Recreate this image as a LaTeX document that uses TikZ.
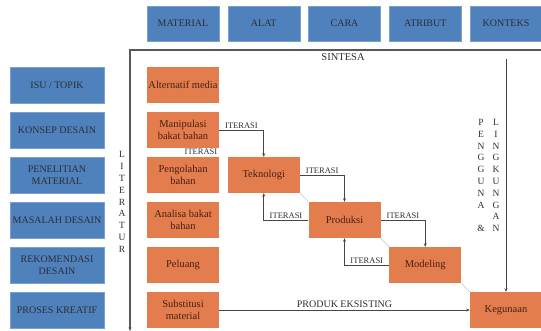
\documentclass[tikz,border=0pt]{standalone}
\usepackage{fontspec}
\setmainfont{Liberation Serif}
\usetikzlibrary{arrows.meta, positioning}

\definecolor{boxblue}{RGB}{79,129,189}
\definecolor{boxorange}{RGB}{228,125,78}
\definecolor{txtgray}{RGB}{45,45,52}
\definecolor{txtbrown}{RGB}{70,32,18}

\begin{document}
\begin{tikzpicture}[x=1pt, y=-1pt,
    every node/.style={font=\fontsize{10}{12}\selectfont},
    bluebox/.style={fill=boxblue, draw=boxblue!75!white, minimum width=72pt, minimum height=36pt,
        text=txtgray, align=center, inner sep=1pt},
    orangebox/.style={fill=boxorange, minimum width=72pt, minimum height=36pt,
        text=txtbrown, align=center, inner sep=1pt, font=\fontsize{10.5}{12}\selectfont},
    iterlabel/.style={font=\fontsize{8.5}{10}\selectfont, text=txtgray, inner sep=1.5pt},
    arr/.style={-{Stealth[length=3.5pt, width=3pt]}, gray!55!black, semithick},
    link/.style={gray!60, thin},
    stacked/.style={font=\fontsize{9.5}{11.8}\selectfont, text=txtgray, align=center, inner sep=0pt}
]
\useasboundingbox (0,0) rectangle (541,331);

% Grid spacing (pixels)
\def\colpitch{80.75}
\def\rowpitch{45}

% Top row: aspects
\node[bluebox, minimum height=35pt] (material) at (183,23.5) {MATERIAL};
\node[bluebox, minimum height=35pt] (alat) at (183+\colpitch,23.5) {ALAT};
\node[bluebox, minimum height=35pt] (cara) at (183+2*\colpitch,23.5) {CARA};
\node[bluebox, minimum height=35pt] (atribut) at (183+3*\colpitch,23.5) {ATRIBUT};
\node[bluebox, minimum height=35pt] (konteks) at (183+4*\colpitch,23.5) {KONTEKS};

% Left column: stages
\node[bluebox, minimum width=94pt] (isu) at (57,85) {ISU / TOPIK};
\node[bluebox, minimum width=94pt] (konsep) at (57,85+\rowpitch) {KONSEP DESAIN};
\node[bluebox, minimum width=94pt] (penelitian) at (57,85+2*\rowpitch) {PENELITIAN\\MATERIAL};
\node[bluebox, minimum width=94pt] (masalah) at (57,85+3*\rowpitch) {MASALAH DESAIN};
\node[bluebox, minimum width=94pt] (rekomendasi) at (57,85+4*\rowpitch) {REKOMENDASI\\DESAIN};
\node[bluebox, minimum width=94pt] (proses) at (57,85+5*\rowpitch) {PROSES KREATIF};

% Frame with literature axis
\coordinate (frameR) at (541,50);
\coordinate (frameTL) at (130,50);
\coordinate (frameBL) at (130,331);
\draw[arr, line width=1.1pt, gray!70!black] (frameR) -- (frameTL) -- (frameBL);
\node[text=txtgray, font=\fontsize{10.5}{12}\selectfont] (sintesa) at (343,57) {SINTESA};
\node[stacked] (literatur) at (122,202) {L\\I\\T\\E\\R\\A\\T\\U\\R};

% Orange column
\node[orangebox] (alternatif) at (183,85) {Alternatif media};
\node[orangebox] (manipulasi) at (183,85+\rowpitch) {Manipulasi\\bakat bahan};
\node[orangebox] (pengolahan) at (183,85+2*\rowpitch) {Pengolahan\\bahan};
\node[orangebox] (analisa) at (183,85+3*\rowpitch) {Analisa bakat\\bahan};
\node[orangebox] (peluang) at (183,85+4*\rowpitch) {Peluang};
\node[orangebox] (substitusi) at (183,85+5*\rowpitch) {Substitusi\\material};
\node[iterlabel, anchor=east] (iterpeng) at (219,152) {ITERASI};

% Staircase
\node[orangebox] (teknologi) at (183+\colpitch,85+2*\rowpitch) {Teknologi};
\node[orangebox] (produksi) at (183+2*\colpitch,85+3*\rowpitch) {Produksi};
\node[orangebox] (modeling) at (183+3*\colpitch,85+4*\rowpitch) {Modeling};
\node[orangebox] (kegunaan) at (183+4*\colpitch,85+5*\rowpitch) {Kegunaan};

\draw[link] (teknologi.south east) -- (produksi.north west);
\draw[link] (produksi.south east) -- (modeling.north west);
\draw[link] (modeling.south east) -- (kegunaan.north west);

% Iterations
\draw[arr] (manipulasi.east) -| (teknologi.north) node[iterlabel, pos=0.25, above] (it1) {ITERASI};
\draw[arr] (teknologi.east) -| (produksi.north) node[iterlabel, pos=0.25, above] (it2) {ITERASI};
\draw[arr] (produksi.west) -| (teknologi.south) node[iterlabel, pos=0.25, above] (it3) {ITERASI};
\draw[arr] (produksi.east) -| (modeling.north) node[iterlabel, pos=0.25, above] (it4) {ITERASI};
\draw[arr] (modeling.west) -| (produksi.south) node[iterlabel, pos=0.25, above] (it5) {ITERASI};

% Existing product
\draw[arr] (substitusi.east) -- (kegunaan.west)
    node[midway, above, text=txtgray, inner sep=2pt] (produk) {PRODUK EKSISTING};

% User & environment axis
\coordinate (envtop) at (kegunaan.north |- 0,59);
\draw[arr] (envtop) -- (kegunaan.north);
\node[stacked] (pengguna) at (481,175.5) {P\\E\\N\\G\\G\\U\\N\\A\\ \\\&};
\node[stacked] (lingkungan) at (496,175.5) {L\\I\\N\\G\\K\\U\\N\\G\\A\\N};

\end{tikzpicture}
\end{document}
